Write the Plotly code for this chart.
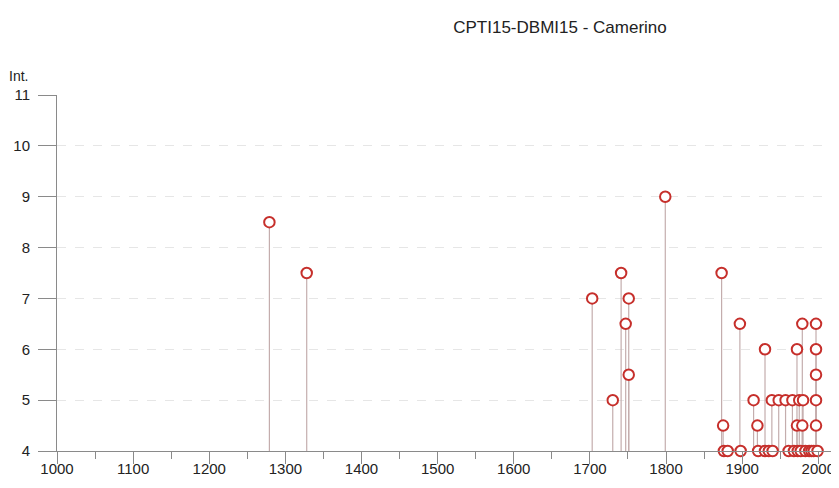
import plotly.graph_objects as go

# Earthquake history at Camerino: year and macroseismic intensity
years = [1279, 1328, 1703, 1730, 1741, 1747, 1751, 1751, 1799,
         1873, 1875, 1876, 1881, 1897, 1898, 1915, 1920, 1921, 1930, 1930,
         1935, 1939, 1940, 1948, 1957, 1961, 1966, 1968, 1972, 1972, 1973,
         1975, 1977, 1979, 1979, 1980, 1983, 1988, 1991, 1994,
         1997, 1997, 1997, 1997, 1997, 1999]
intensity = [8.5, 7.5, 7, 5, 7.5, 6.5, 7, 5.5, 9,
             7.5, 4.5, 4, 4, 6.5, 4, 5, 4.5, 4, 6, 4,
             4, 5, 4, 5, 5, 4, 5, 4, 6, 4.5, 4,
             5, 4, 6.5, 4.5, 5, 4, 4, 4, 4,
             6.5, 6, 5.5, 5, 4.5, 4]

x_ticks = list(range(1000, 2001, 100))
y_ticks = list(range(4, 12))
title_text = "CPTI15-DBMI15 - Camerino"
y_label = "Int."

base = min(y_ticks)
stem_x, stem_y = [], []
for yr, iv in zip(years, intensity):
    stem_x += [yr, yr, None]
    stem_y += [base, iv, None]

FONT = "Liberation Sans, Arial, sans-serif"
AXIS_COL = "#8a8a8a"
W, H = 831, 480  # page body adds an 8px offset

fig = go.Figure()
fig.add_trace(go.Scatter(x=stem_x, y=stem_y, mode="lines",
                         line=dict(color="#c4adad", width=1.2),
                         hoverinfo="skip", showlegend=False))
fig.add_trace(go.Scatter(x=years, y=intensity, mode="markers",
                         marker=dict(symbol="circle", size=10.5, color="white",
                                     line=dict(color="#c62f2b", width=2)),
                         cliponaxis=False, showlegend=False))

fig.update_layout(
    width=W, height=H,
    margin=dict(l=49, r=7, t=87, b=37, autoexpand=False),
    paper_bgcolor="white", plot_bgcolor="white",
    font=dict(family=FONT, color="#222222", size=15),
    title=dict(text=title_text, x=552/W, xanchor="center", xref="container",
               y=1 - 19/H, yanchor="middle", yref="container",
               automargin=False,
               font=dict(family=FONT, size=17, color="#222222")),
    annotations=[dict(text=y_label, xref="paper", yref="paper",
                      x=-0.065, y=1.053, xanchor="left", yanchor="middle",
                      showarrow=False, font=dict(size=14, color="#222222"))],
)
fig.update_xaxes(range=[1000, 2018], tickvals=x_ticks, ticks="outside",
                 ticklen=12, tickcolor=AXIS_COL, tickwidth=1,
                 minor=dict(dtick=50, tick0=1000, ticks="outside", ticklen=7,
                            tickcolor=AXIS_COL, showgrid=False),
                 showline=True, linecolor=AXIS_COL, linewidth=1,
                 showgrid=False, zeroline=False, automargin=False,
                 tickfont=dict(size=15, color="#222222"))
fig.update_yaxes(range=[4, 11], tickvals=y_ticks, ticks="outside",
                 ticklen=18, tickcolor=AXIS_COL, tickwidth=1,
                 showline=True, linecolor=AXIS_COL, linewidth=1,
                 showgrid=True, gridcolor="#e6e6e6", griddash="dash",
                 zeroline=False, automargin=False,
                 tickfont=dict(size=15, color="#222222"))
try:
    fig.update_xaxes(ticklabelstandoff=-8)
    fig.update_yaxes(ticklabelstandoff=5)
except Exception:
    pass

fig.write_html("out.html")
